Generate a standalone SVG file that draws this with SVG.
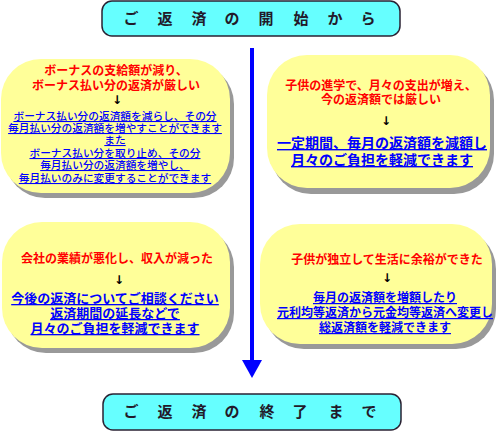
<svg xmlns="http://www.w3.org/2000/svg" width="503" height="431" viewBox="0 0 503 431">
<defs>
<style>
text{font-family:"Noto Sans CJK JP","Noto Sans CJK SC",sans-serif;text-anchor:middle}
.hdr{fill:#66FFFF;stroke:#2a2233;stroke-width:1.5}
.ht{font-size:15px;font-weight:bold;fill:#221a2a}
.box{fill:#FFFF99}
.sh{fill:#999999}
.r{font-size:12px;font-weight:bold;fill:#FF0000}
.b{fill:#0000FF;text-decoration:underline}
.b11{font-size:10.7px;font-weight:500}
.b12{font-size:12px;font-weight:bold}
.b14{font-size:14px;font-weight:bold}
.b13{font-size:13px;font-weight:bold}
.ar{font-size:12px;font-weight:bold;fill:#000000;font-family:"DejaVu Sans",sans-serif}
</style>
</defs>
<rect width="503" height="431" fill="#FFFFFF"/>
<g id="connectors">
<line x1="252" y1="48" x2="252" y2="362" stroke="#0000FF" stroke-width="4"/>
<polygon points="242,360 262,360 252,378" fill="#0000FF"/>
</g>
<g id="start">
<rect class="hdr" x="102" y="1" width="298" height="35" rx="10"/>
<text class="ht" x="131 165 199 232 266 301 335 368" y="24">ご返済の開始から</text>
</g>
<g id="end">
<rect class="hdr" x="103" y="394" width="298" height="36" rx="10"/>
<text class="ht" x="131 165 199 232 267 300 336 369" y="417">ご返済の終了まで</text>
</g>
<g id="box1">
<rect class="sh" x="5" y="64" width="229" height="134" rx="40"/>
<rect class="box" x="1" y="59" width="229" height="134" rx="40"/>
<text class="r" x="116" y="75">ボーナスの支給額が減り、</text>
<text class="r" x="116" y="90">ボーナス払い分の返済が厳しい</text>
<text class="ar" x="117" y="104">↓</text>
<text class="b b11" x="115" y="120">ボーナス払い分の返済額を減らし、その分</text>
<text class="b b11" x="115" y="132">毎月払い分の返済額を増やすことができます</text>
<text class="b b11" x="115" y="144">また</text>
<text class="b b11" x="115" y="157">ボーナス払い分を取り止め、その分</text>
<text class="b b11" x="115" y="169">毎月払い分の返済額を増やし、</text>
<text class="b b11" x="115" y="182">毎月払いのみに変更することができます</text>
</g>
<g id="box2">
<rect class="sh" x="271" y="60" width="223" height="134" rx="40"/>
<rect class="box" x="267" y="55" width="223" height="133" rx="40"/>
<text class="r" x="381" y="90">子供の進学で、月々の支出が増え、</text>
<text class="r" x="381" y="104">今の返済額では厳しい</text>
<text class="ar" x="386" y="125">↓</text>
<text class="b b14" x="382" y="148">一定期間、毎月の返済額を減額し</text>
<text class="b b14" x="382" y="165">月々のご負担を軽減できます</text>
</g>
<g id="box3">
<rect class="sh" x="6" y="227" width="228" height="126" rx="40"/>
<rect class="box" x="2" y="222" width="228" height="126" rx="40"/>
<text class="r" x="117" y="263">会社の業績が悪化し、収入が減った</text>
<text class="ar" x="119" y="284">↓</text>
<text class="b b13" x="115" y="303">今後の返済についてご相談ください</text>
<text class="b b13" x="115" y="318">返済期間の延長などで</text>
<text class="b b13" x="115" y="333">月々のご負担を軽減できます</text>
</g>
<g id="box4">
<rect class="sh" x="264" y="229" width="232" height="120" rx="40"/>
<rect class="box" x="260" y="224" width="232" height="120" rx="40"/>
<text class="r" x="387" y="264">子供が独立して生活に余裕ができた</text>
<text class="ar" x="387" y="282">↓</text>
<text class="b b12" x="385" y="302">毎月の返済額を増額したり</text>
<text class="b b12" x="385" y="317">元利均等返済から元金均等返済へ変更し</text>
<text class="b b12" x="385" y="332">総返済額を軽減できます</text>
</g>
</svg>
